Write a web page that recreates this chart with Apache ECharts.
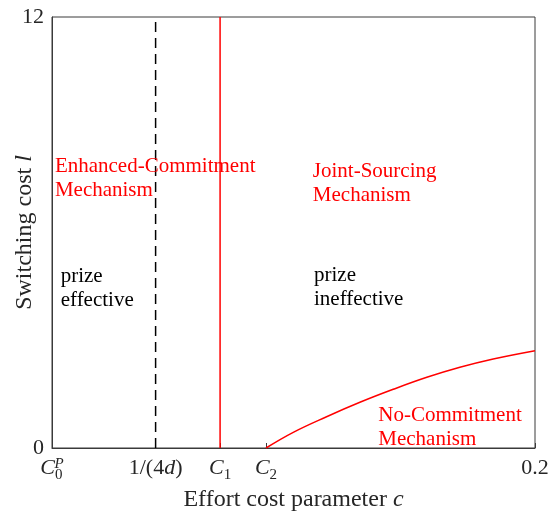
<!DOCTYPE html>
<html>
<head>
<meta charset="utf-8">
<script src="https://cdn.jsdelivr.net/npm/echarts@6/dist/echarts.min.js"></script>
<style>
  html, body { margin: 0; padding: 0; background: #fff; }
  #chart { width: 551px; height: 511px; }
</style>
</head>
<body>
<div id="chart"></div>
<script>
// Threshold values on the effort cost axis
var tickValues = [0, 0.0429, 0.0696, 0.0886, 0.2];
var tickNames = ['{c|C}{sub|0}{sup|P}', '{r|1/(4}{i|d}{r|)}', '{c|C}{sub|1}', '{c|C}{sub|2}', '{r|0.2}'];
var yTicks = [0, 12];

// Boundaries between regions
var prizeBoundary = 0.0429;   // 1/(4d)
var jointBoundary = 0.0696;   // C1

// No-commitment boundary curve l(c)
var curveC = [0.0886, 0.0999, 0.1137, 0.1275, 0.1413, 0.1552, 0.1689, 0.1827, 0.2];
var curveL = [0, 0.437, 0.871, 1.272, 1.634, 1.968, 2.247, 2.478, 2.709];

// Region annotations: [c, l, text lines, colour]
var notes = [
  [0.0012, 8.16, ['Enhanced-Commitment', 'Mechanism'], '#ff0000'],
  [0.1080, 8.03, ['Joint-Sourcing', 'Mechanism'], '#ff0000'],
  [0.0036, 5.10, ['prize', 'effective'], '#000000'],
  [0.1085, 5.14, ['prize', 'ineffective'], '#000000'],
  [0.1351, 1.23, ['No-Commitment', 'Mechanism'], '#ff0000']
];

var serif = '"Liberation Serif", "DejaVu Serif", serif';
var axisColor = '#3a3a3a';
var textColor = '#262626';

var chart = echarts.init(document.getElementById('chart'));

var curveData = curveC.map(function (c, i) { return [c, curveL[i]]; });

chart.setOption({
  animation: false,
  backgroundColor: '#fff',
  grid: {
    left: 52, right: 16, top: 17, bottom: 63,
    outerBoundsMode: 'none',
    containLabel: false,
    show: true, borderColor: axisColor, borderWidth: 1, backgroundColor: 'transparent'
  },
  xAxis: {
    type: 'value', min: 0, max: 0.2,
    name: '{t|Effort cost parameter }{i|c}',
    nameLocation: 'middle', nameGap: 33,
    nameTextStyle: {
      rich: {
        t: { fontFamily: serif, fontSize: 24, color: textColor },
        i: { fontFamily: serif, fontSize: 24, fontStyle: 'italic', color: textColor }
      }
    },
    axisLine: { show: true, lineStyle: { color: axisColor, width: 1 } },
    splitLine: { show: false },
    axisTick: { show: true, inside: true, length: 5, customValues: tickValues, lineStyle: { color: axisColor } },
    axisLabel: {
      customValues: tickValues,
      margin: 9,
      showMinLabel: true, showMaxLabel: true,
      formatter: function (v) {
        for (var i = 0; i < tickValues.length; i++) {
          if (Math.abs(v - tickValues[i]) < 1e-6) return tickNames[i];
        }
        return '';
      },
      rich: {
        c: { fontFamily: serif, fontSize: 22, fontStyle: 'italic', color: textColor, lineHeight: 26, verticalAlign: 'top' },
        r: { fontFamily: serif, fontSize: 22, color: textColor, lineHeight: 26, verticalAlign: 'top' },
        i: { fontFamily: serif, fontSize: 22, fontStyle: 'italic', color: textColor, lineHeight: 26, verticalAlign: 'top' },
        sub: { fontFamily: serif, fontSize: 15, color: textColor, lineHeight: 14, verticalAlign: 'bottom' },
        sup: { fontFamily: serif, fontSize: 15, fontStyle: 'italic', color: textColor, lineHeight: 14, verticalAlign: 'top', padding: [0, 0, 0, -8] }
      }
    }
  },
  yAxis: {
    type: 'value', min: 0, max: 12, interval: 12,
    name: '{t|Switching cost }{i|l}',
    nameLocation: 'middle', nameGap: 15, nameRotate: 90,
    nameMoveOverlap: false,
    nameTextStyle: {
      rich: {
        t: { fontFamily: serif, fontSize: 24, color: textColor },
        i: { fontFamily: serif, fontSize: 24, fontStyle: 'italic', color: textColor }
      }
    },
    axisLine: { show: true, lineStyle: { color: axisColor, width: 1 } },
    splitLine: { show: false },
    axisTick: { show: false },
    axisLabel: {
      margin: 8,
      fontFamily: serif, fontSize: 22, color: textColor,
      formatter: function (v) { return yTicks.indexOf(v) >= 0 ? String(v) : ''; }
    }
  },
  series: [
    {
      type: 'line', data: [[prizeBoundary, 0], [prizeBoundary, 12]],
      symbol: 'none', lineStyle: { color: '#000', width: 1.5, type: [10, 6] }, z: 3
    },
    {
      type: 'line', data: [[jointBoundary, 0], [jointBoundary, 12]],
      symbol: 'none', lineStyle: { color: '#ff0000', width: 1.5 }, z: 3
    },
    {
      type: 'line', data: curveData, smooth: 0.4,
      symbol: 'none', lineStyle: { color: '#ff0000', width: 1.5 }, z: 3
    }
  ]
});

// Region annotations placed in data coordinates
var graphics = notes.map(function (n) {
  var p = chart.convertToPixel({ gridIndex: 0 }, [n[0], n[1]]);
  return {
    type: 'text', x: p[0], y: p[1], z: 10,
    style: {
      text: n[2].join('\n'),
      fontFamily: serif, fontSize: 21, lineHeight: 24,
      fill: n[3], textAlign: 'left', textVerticalAlign: 'top'
    }
  };
});
chart.setOption({ graphic: graphics });
</script>
</body>
</html>
